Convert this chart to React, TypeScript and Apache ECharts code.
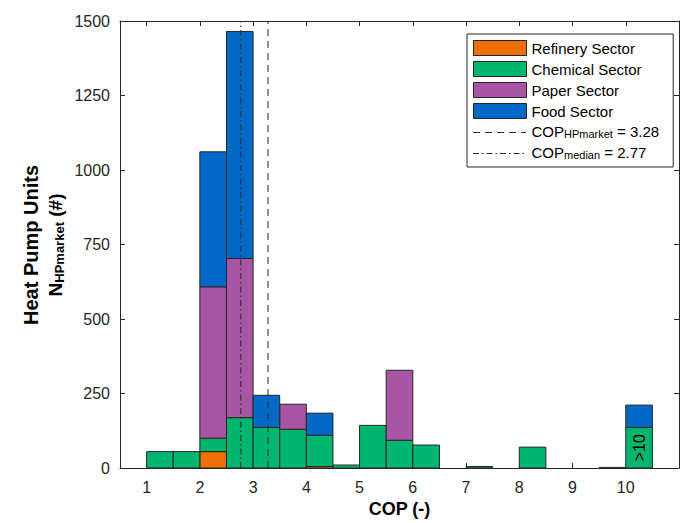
import React, { useEffect, useRef } from "react";
import * as echarts from "echarts";

// ---- data ----
const binStarts = [1, 1.5, 2, 2.5, 3, 3.5, 4, 4.5, 5, 5.5, 6, 6.5, 7, 7.5, 8, 8.5, 9, 9.5, 10];
const binWidth = 0.5;
const refinery = [0, 0, 55, 0, 0, 0, 5, 0, 0, 0, 0, 0, 0, 0, 0, 0, 0, 0, 0];
const chemical = [55, 55, 45, 169, 136, 130, 105, 10, 143, 93, 77, 0, 5, 0, 70, 0, 0, 2, 136];
const paper = [0, 0, 508, 534, 0, 84, 0, 0, 0, 235, 0, 0, 0, 0, 0, 0, 0, 0, 0];
const food = [0, 0, 453, 762, 108, 0, 74, 0, 0, 0, 0, 0, 0, 0, 0, 0, 0, 0, 75];
const sectorNames = ["Refinery Sector", "Chemical Sector", "Paper Sector", "Food Sector"];
const sectorColors = ["#EE7203", "#00B66E", "#A855A6", "#0069C8"];
const copHPmarket = 3.28;
const copMedian = 2.77;
const xTicks = [1, 2, 3, 4, 5, 6, 7, 8, 9, 10];
const xMin = 0.5;
const xMax = 11;
const yMin = 0;
const yMax = 1500;
const yStep = 250;
const overflowBin = 10;
const overflowLabel = ">10";

const FONT = "'Liberation Sans', Arial, Helvetica, sans-serif";
const AX = "#262626";
const DASH = [7, 5];
const DASHDOT = [6, 3, 1.5, 3];

// legend layout
const LEG_LEFT = 467;
const LEG_TOP = 34;
const LEG_PAD = [6, 14, 7, 6];
const LEG_ICON_W = 53;
const LEG_ROW_H = 16;
const LEG_GAP = 5;

export default function App() {
  const ref = useRef<HTMLDivElement>(null);
  useEffect(() => {
    if (!ref.current) return;
    const chart = echarts.init(ref.current, undefined, { renderer: "svg" });
    const sectors = [refinery, chemical, paper, food];
    const bases = binStarts.map(() => 0);
    const customSeries = sectors.map((vals, s) => {
      const data: number[][] = [];
      binStarts.forEach((b, i) => {
        const v = vals[i];
        if (v > 0) data.push([b, b + binWidth, bases[i], bases[i] + v]);
        bases[i] += v;
      });
      return {
        type: "custom",
        name: sectorNames[s],
        data,
        encode: { x: [0, 1], y: [2, 3] },
        itemStyle: { color: sectorColors[s], borderColor: AX, borderWidth: 1 },
        z: 2,
        renderItem: (params: any, api: any) => {
          const x0 = api.value(0), x1 = api.value(1), y0 = api.value(2), y1 = api.value(3);
          const p0 = api.coord([x0, y1]);
          const p1 = api.coord([x1, y0]);
          const rect = {
            type: "rect",
            shape: { x: p0[0], y: p0[1], width: p1[0] - p0[0], height: p1[1] - p0[1] },
            style: { fill: sectorColors[s], stroke: AX, lineWidth: 1 },
          };
          if (s === 1 && x0 === overflowBin) {
            return {
              type: "group",
              children: [
                rect,
                {
                  type: "text",
                  x: (p0[0] + p1[0]) / 2,
                  y: (p0[1] + p1[1]) / 2,
                  rotation: Math.PI / 2,
                  style: {
                    text: overflowLabel,
                    fontSize: 16,
                    fontFamily: FONT,
                    fill: "#000",
                    align: "center",
                    verticalAlign: "middle",
                  },
                },
              ],
            };
          }
          return rect;
        },
      };
    });

    const vline = (name: string, x: number, type: any) => ({
      type: "line",
      name,
      data: [
        [x, yMin],
        [x, yMax],
      ],
      symbol: "none",
      showSymbol: false,
      silent: true,
      z: 5,
      lineStyle: { color: AX, width: 1, type },
      itemStyle: { color: AX },
    });

    const sub = (main: string, s: string, rest: string) => `{m|${main}}{s|${s}}{m|${rest}}`;

    const legendLine = (row: number, dash: number[]) => {
      const y = LEG_TOP + LEG_PAD[0] + row * (LEG_ROW_H + LEG_GAP) + LEG_ROW_H / 2 + 0.5;
      const x1 = LEG_LEFT + LEG_PAD[3];
      return {
        type: "line",
        z: 100,
        silent: true,
        shape: { x1, y1: y, x2: x1 + LEG_ICON_W, y2: y },
        style: { stroke: AX, lineWidth: 1, lineDash: dash },
      };
    };

    chart.setOption({
      animation: false,
      backgroundColor: "#fff",
      textStyle: { fontFamily: FONT },
      grid: { left: 120, right: 5, top: 21, bottom: 55 },
      xAxis: [
        {
          type: "value",
          min: xMin,
          max: xMax,
          name: "COP (-)",
          nameLocation: "middle",
          nameGap: 27,
          nameTextStyle: { fontSize: 18, fontWeight: "bold", color: "#000", fontFamily: FONT },
          axisLine: { show: true, onZero: false, lineStyle: { color: AX, width: 1 } },
          axisTick: { show: true, inside: true, length: 5, customValues: xTicks, lineStyle: { color: AX } },
          axisLabel: { show: true, customValues: xTicks, fontSize: 16, color: AX, margin: 11, fontFamily: FONT },
          splitLine: { show: false },
        },
        {
          type: "value",
          position: "top",
          min: xMin,
          max: xMax,
          axisLine: { show: true, onZero: false, lineStyle: { color: AX, width: 1 } },
          axisTick: { show: true, inside: true, length: 5, customValues: xTicks, lineStyle: { color: AX } },
          axisLabel: { show: false },
          splitLine: { show: false },
        },
      ],
      yAxis: [
        {
          type: "value",
          min: yMin,
          max: yMax,
          interval: yStep,
          axisLine: { show: true, onZero: false, lineStyle: { color: AX, width: 1 } },
          axisTick: { show: true, inside: true, length: 5, lineStyle: { color: AX } },
          axisLabel: {
            fontSize: 16,
            color: AX,
            margin: 10,
            fontFamily: FONT,
            formatter: (v: number) => String(v),
          },
          splitLine: { show: false },
        },
        {
          type: "value",
          position: "right",
          min: yMin,
          max: yMax,
          interval: yStep,
          axisLine: { show: true, onZero: false, lineStyle: { color: AX, width: 1 } },
          axisTick: { show: true, inside: true, length: 5, lineStyle: { color: AX } },
          axisLabel: { show: false },
          splitLine: { show: false },
        },
      ],
      legend: {
        orient: "vertical",
        left: LEG_LEFT,
        top: LEG_TOP,
        padding: LEG_PAD,
        itemWidth: LEG_ICON_W,
        itemHeight: 15,
        itemGap: LEG_GAP,
        borderColor: AX,
        borderWidth: 1,
        backgroundColor: "#fff",
        selectedMode: false,
        data: [
          ...sectorNames.map((n, i) => ({
            name: n,
            icon: "rect",
            itemStyle: { color: sectorColors[i], borderColor: AX, borderWidth: 1 },
          })),
          { name: "COP_HPmarket", icon: "none" },
          { name: "COP_median", icon: "none" },
        ],
        formatter: (name: string) => {
          if (name === "COP_HPmarket") return sub("COP", "HPmarket", ` = ${copHPmarket.toFixed(2)}`);
          if (name === "COP_median") return sub("COP", "median", ` = ${copMedian.toFixed(2)}`);
          return `{m|${name}}`;
        },
        textStyle: {
          fontSize: 15,
          color: "#000",
          fontFamily: FONT,
          rich: {
            m: { fontSize: 15, color: "#000", fontFamily: FONT, lineHeight: LEG_ROW_H },
            s: { fontSize: 11, color: "#000", fontFamily: FONT, verticalAlign: "bottom", lineHeight: 11 },
          },
        },
      },
      graphic: [
        {
          type: "text",
          x: 31,
          y: 245,
          rotation: Math.PI / 2,
          style: {
            text: "Heat Pump Units",
            fontSize: 20,
            fontWeight: "bold",
            fontFamily: FONT,
            fill: "#000",
            align: "center",
            verticalAlign: "middle",
          },
        },
        {
          type: "text",
          x: 55,
          y: 245,
          rotation: Math.PI / 2,
          style: {
            text: sub("N", "HPmarket", " (#)"),
            fontFamily: FONT,
            fill: "#000",
            align: "center",
            verticalAlign: "middle",
            rich: {
              m: { fontSize: 19, fontWeight: "bold", fill: "#000", fontFamily: FONT, lineHeight: 22 },
              s: { fontSize: 13, fontWeight: "bold", fill: "#000", fontFamily: FONT, verticalAlign: "bottom", lineHeight: 13 },
            },
          },
        },
        legendLine(4, DASH),
        legendLine(5, DASHDOT),
      ],
      series: [
        ...customSeries,
        vline("COP_HPmarket", copHPmarket, DASH),
        vline("COP_median", copMedian, DASHDOT),
      ],
    });
    return () => chart.dispose();
  }, []);
  return <div ref={ref} style={{ position: "fixed", left: 0, top: 0, width: 684, height: 523 }} />;
}
